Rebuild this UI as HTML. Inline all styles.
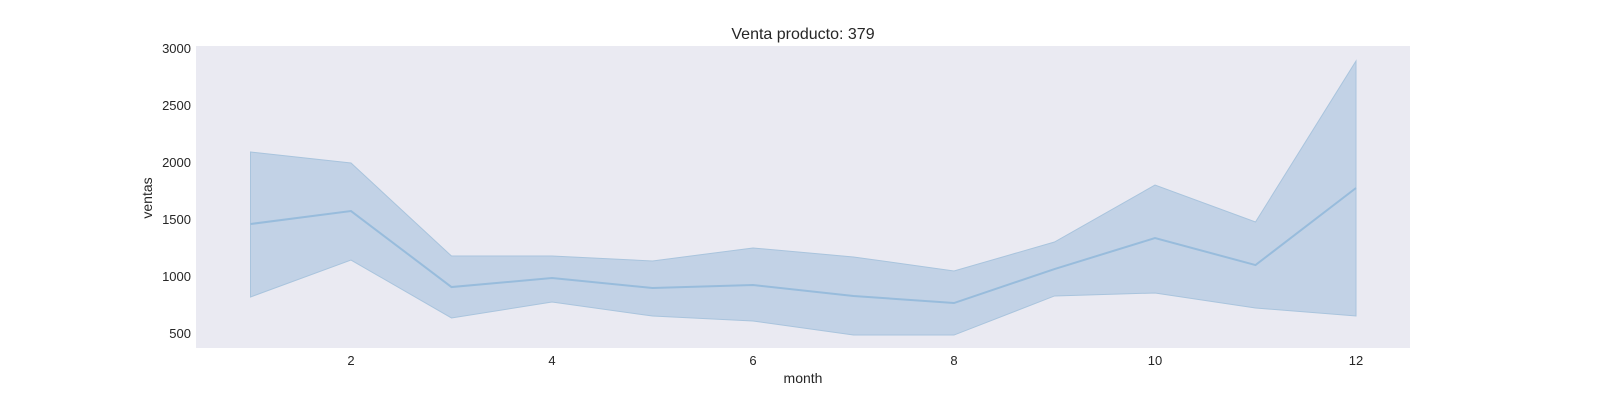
<!DOCTYPE html>
<html><head><meta charset="utf-8"><style>
body{margin:0;background:#fff;}
svg text{font-family:"Liberation Sans",Arial,sans-serif;fill:#262626;}
</style></head><body>
<svg width="1600" height="400">
<rect x="196" y="46" width="1214" height="302" fill="#eaeaf2"/>
<g id="marks"></g>
<g id="axes"></g>
<text x="803" y="39" font-size="16" text-anchor="middle">Venta producto: 379</text>
<text x="803" y="383" font-size="14" text-anchor="middle">month</text>
<text transform="translate(152,198) rotate(-90)" font-size="14" text-anchor="middle">ventas</text>
</svg>
<script>
const months=[1,2,3,4,5,6,7,8,9,10,11,12];
const meanVals=[1456,1570,903,982,895,921,825,763,1061,1333,1096,1772];
const upperVals=[2088,1991,1175,1175,1132,1246,1167,1044,1298,1798,1474,2886];
const lowerVals=[816,1140,632,772,649,605,482,482,825,851,719,649];
const xTicks=[2,4,6,8,10,12];
const yTicks=[500,1000,1500,2000,2500,3000];
const xs=m=>250.5+(m-1)*100.5;
const ys=v=>333-(v-500)*0.114;
const ns="http://www.w3.org/2000/svg";
const marks=document.getElementById('marks'),axes=document.getElementById('axes');
let d=months.map((m,i)=>(i?'L':'M')+xs(m)+','+ys(upperVals[i])).join('');
for(let i=months.length-1;i>=0;i--)d+='L'+xs(months[i])+','+ys(lowerVals[i]);
const band=document.createElementNS(ns,'path');
band.setAttribute('d',d+'Z');band.setAttribute('fill','rgba(160,190,220,0.55)');band.setAttribute('stroke','#a9c4dd');band.setAttribute('stroke-width','1');


marks.appendChild(band);
const line=document.createElementNS(ns,'path');
line.setAttribute('d',months.map((m,i)=>(i?'L':'M')+xs(m)+','+ys(meanVals[i])).join(''));
line.setAttribute('fill','none');line.setAttribute('stroke','#98bcdc');line.setAttribute('stroke-width','2');


marks.appendChild(line);
xTicks.forEach(t=>{const e=document.createElementNS(ns,'text');e.setAttribute('x',xs(t));e.setAttribute('y',365);e.setAttribute('font-size','13');e.setAttribute('text-anchor','middle');e.textContent=t;


axes.appendChild(e);});
yTicks.forEach(t=>{const e=document.createElementNS(ns,'text');e.setAttribute('x',191);e.setAttribute('y',ys(t)+5);e.setAttribute('font-size','13');e.setAttribute('text-anchor','end');e.textContent=t;


axes.appendChild(e);});
</script>
</body></html>
